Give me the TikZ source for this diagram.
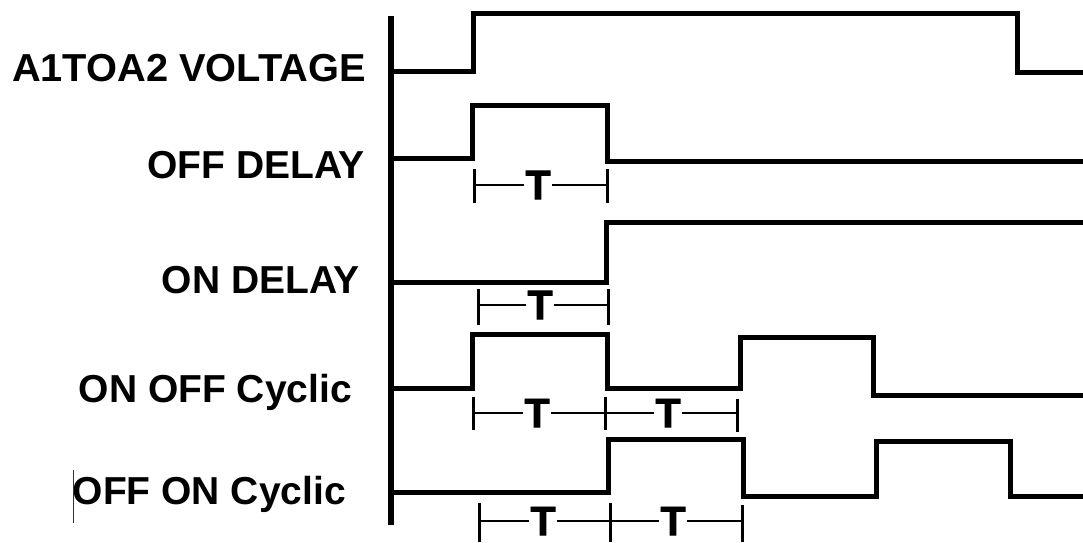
\documentclass[tikz,border=0pt]{standalone}
\usepackage{fontspec}
\setmainfont{Liberation Sans}
\newfontfamily\tletterfont{Liberation Sans}[BoldFont=Liberation Sans Bold, BoldFeatures={FakeBold=2}]
\begin{document}
\begin{tikzpicture}[x=1pt,y=-1pt,
  wave/.style={line width=5pt, line join=miter, line cap=rect},
  axisline/.style={line width=5.5pt},
  lbl/.style={anchor=base east, inner sep=0pt, font=\fontsize{39}{41}\selectfont\bfseries},
  tlbl/.style={inner sep=1.5pt, font=\fontsize{41}{43}\selectfont\tletterfont\bfseries},
  tick/.style={line width=3pt},
  span/.style={line width=2.5pt}]
\useasboundingbox (0,0) rectangle (1083,542);

% labels
\node[lbl, xscale=1.02, transform shape] (l1) at (366,81) {A1TOA2 VOLTAGE};
\node[lbl] (l2) at (365,178) {OFF DELAY};
\node[lbl] (l3) at (360,293) {ON DELAY};
\node[lbl] (l4) at (352,402) {ON OFF Cyclic};
\node[lbl] (l5) at (346,504) {OFF ON Cyclic};
\coordinate (c1) at (73,470);
\coordinate (c2) at (73,523);
\draw[line width=1pt, black!80] (c1) -- (c2);

% axis
\coordinate (a1) at (391,16);
\coordinate (a2) at (391,525);
\draw[axisline] (a1) -- (a2);

% waveforms
\draw[wave] (391,71) -| (473,13) -| (1017,72) -- (1083,72);
\draw[wave] (391,158) -| (472,105) -| (607,161) -- (1083,161);
\draw[wave] (391,282) -| (606,222) -- (1083,222);
\draw[wave] (391,388) -| (472,334) -| (607,388) -| (740,337) -| (873,395) -- (1083,395);
\draw[wave] (391,492) -| (608,439) -| (743,496) -| (876,441) -| (1010,496) -- (1083,496);

% T markers
% OFF DELAY
\coordinate (m1a) at (474,185); \coordinate (m1b) at (607,185);
\node[tlbl] (t1) at (538,185) {T};
\draw[tick] (474,169) -- (474,203);
\draw[tick] (607,169) -- (607,203);
\draw[span] (m1a) -- (t1.west);
\draw[span] (t1.east) -- (m1b);
% ON DELAY
\coordinate (m2a) at (478,305); \coordinate (m2b) at (608,305);
\node[tlbl] (t2) at (540,305) {T};
\draw[tick] (478,289) -- (478,325);
\draw[tick] (608,289) -- (608,325);
\draw[span] (m2a) -- (t2.west);
\draw[span] (t2.east) -- (m2b);
% ON OFF Cyclic
\coordinate (m3a) at (473,413); \coordinate (m3b) at (605,413); \coordinate (m3c) at (737,413);
\node[tlbl] (t3) at (537,413) {T};
\node[tlbl] (t4) at (668,413) {T};
\draw[tick] (473,397) -- (473,430);
\draw[tick] (605,397) -- (605,430);
\draw[tick] (737,399) -- (737,432);
\draw[span] (m3a) -- (t3.west);
\draw[span] (t3.east) -- (m3b);
\draw[span] (m3b) -- (t4.west);
\draw[span] (t4.east) -- (m3c);
% OFF ON Cyclic
\coordinate (m4a) at (479,521); \coordinate (m4b) at (610,521); \coordinate (m4c) at (742,521);
\node[tlbl] (t5) at (543,521) {T};
\node[tlbl] (t6) at (673,521) {T};
\draw[tick] (479,503) -- (479,542);
\draw[tick] (610,503) -- (610,542);
\draw[tick] (742,505) -- (742,542);
\draw[span] (m4a) -- (t5.west);
\draw[span] (t5.east) -- (m4b);
\draw[span] (m4b) -- (t6.west);
\draw[span] (t6.east) -- (m4c);
\end{tikzpicture}
\end{document}
